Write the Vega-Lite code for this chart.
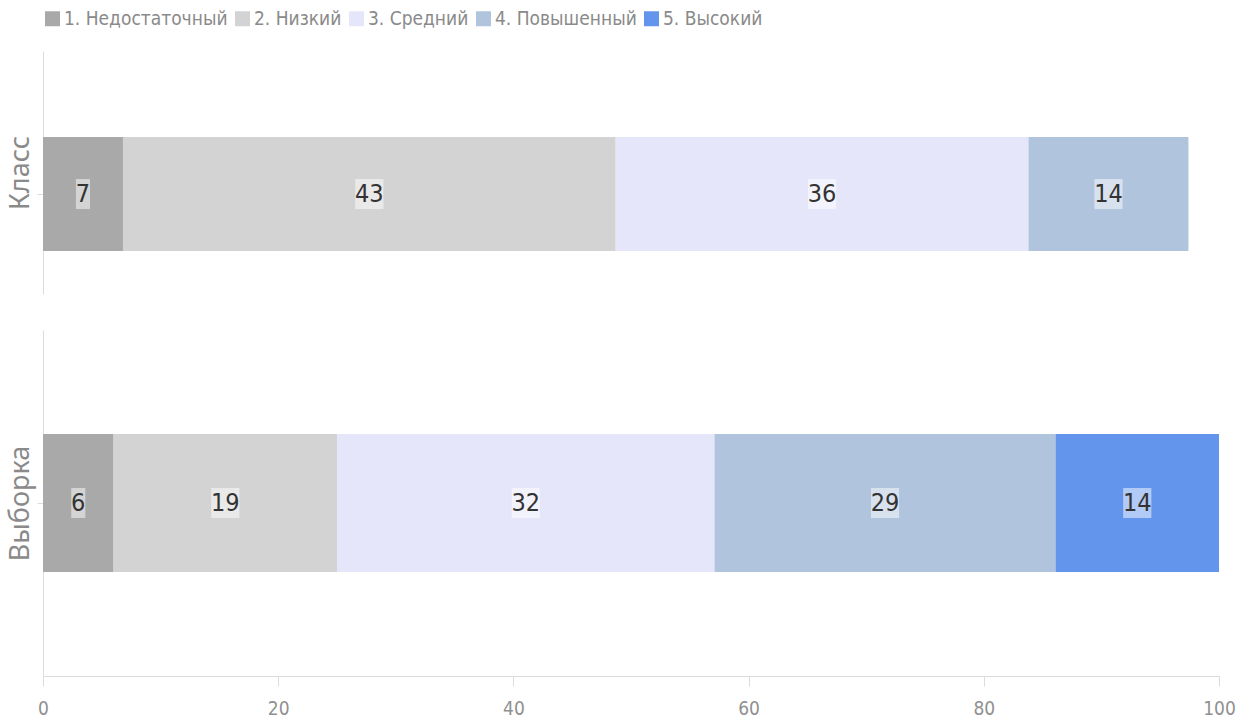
{
  "$schema": "https://vega.github.io/schema/vega-lite/v6.json",
  "padding": {"left": 6, "top": 9, "right": 18, "bottom": 2},
  "background": "white",
  "config": {
    "view": {"stroke": null},
    "font": "DejaVu Sans Condensed, Liberation Sans, sans-serif",
    "axis": {"domainColor": "#dcdcdc", "tickColor": "#dcdcdc", "labelColor": "#909090", "titleColor": "#8a8a8a", "grid": false, "labelFont": "DejaVu Sans Condensed, Liberation Sans, sans-serif"},
    "legend": {"labelFont": "DejaVu Sans Condensed, Liberation Sans, sans-serif"}
  },
  "data": {
    "values": [
      {"group": "Класс", "level": "1. Недостаточный", "value": 6.8, "label": "7"},
      {"group": "Класс", "level": "2. Низкий", "value": 41.9, "label": "43"},
      {"group": "Класс", "level": "3. Средний", "value": 35.1, "label": "36"},
      {"group": "Класс", "level": "4. Повышенный", "value": 13.6, "label": "14"},
      {"group": "Выборка", "level": "1. Недостаточный", "value": 6.0, "label": "6"},
      {"group": "Выборка", "level": "2. Низкий", "value": 19.0, "label": "19"},
      {"group": "Выборка", "level": "3. Средний", "value": 32.1, "label": "32"},
      {"group": "Выборка", "level": "4. Повышенный", "value": 29.0, "label": "29"},
      {"group": "Выборка", "level": "5. Высокий", "value": 13.9, "label": "14"}
    ]
  },
  "transform": [
    {"stack": "value", "groupby": ["group"], "sort": [{"field": "level", "order": "ascending"}], "as": ["x0", "x1"]},
    {"calculate": "(datum.x0 + datum.x1) / 2", "as": "mid"},
    {"calculate": "datum.mid - 0.6 * length(datum.label)", "as": "boxLo"},
    {"calculate": "datum.mid + 0.6 * length(datum.label)", "as": "boxHi"}
  ],
  "spacing": 36,
  "vconcat": [
    {
      "width": 1176,
      "height": 243,
      "transform": [{"filter": "datum.group === 'Класс'"}],
      "encoding": {
        "y": {
          "field": "group", "type": "nominal",
          "scale": {"paddingInner": 0, "paddingOuter": 0.566, "align": 0.667},
          "axis": {"labels": false, "title": "Класс", "titleFont": "Noto Sans", "titleFontSize": 27, "titleFontWeight": "normal", "tickSize": 6, "titlePadding": 2}
        }
      },
      "layer": [
        {
          "mark": {"type": "bar"},
          "encoding": {
            "x": {"field": "x0", "type": "quantitative", "scale": {"domain": [0, 100]}, "axis": null},
            "x2": {"field": "x1"},
            "color": {
              "field": "level", "type": "nominal",
              "scale": {"domain": ["1. Недостаточный", "2. Низкий", "3. Средний", "4. Повышенный", "5. Высокий"], "range": ["#a9a9a9", "#d3d3d3", "#e6e6fa", "#b0c4de", "#6495ed"]},
              "legend": {"orient": "top", "direction": "horizontal", "title": null, "symbolType": "square", "symbolSize": 225, "symbolStrokeWidth": 0, "labelFontSize": 19, "labelLimit": 400, "labelColor": "#8a8a8a", "labelOffset": 2, "columnPadding": 5, "offset": 22}
            }
          }
        },
        {
          "mark": {"type": "bar", "height": 30, "color": "white", "opacity": 0.5},
          "encoding": {
            "x": {"field": "boxLo", "type": "quantitative", "axis": null},
            "x2": {"field": "boxHi"}
          }
        },
        {
          "mark": {"type": "text", "fontSize": 25, "color": "#333333"},
          "encoding": {
            "x": {"field": "mid", "type": "quantitative", "axis": null},
            "text": {"field": "label"}
          }
        }
      ]
    },
    {
      "width": 1176,
      "height": 346,
      "transform": [{"filter": "datum.group === 'Выборка'"}],
      "encoding": {
        "y": {
          "field": "group", "type": "nominal",
          "scale": {"paddingInner": 0, "paddingOuter": 0.754, "align": 0.5},
          "axis": {"labels": false, "title": "Выборка", "titleFont": "Noto Sans", "titleFontSize": 27, "titleFontWeight": "normal", "tickSize": 6, "titlePadding": 2}
        }
      },
      "layer": [
        {
          "mark": {"type": "bar"},
          "encoding": {
            "x": {"field": "x0", "type": "quantitative", "scale": {"domain": [0, 100]}, "axis": {"values": [0, 20, 40, 60, 80, 100], "title": null, "labelFontSize": 19, "labelFlush": false, "tickSize": 10, "labelPadding": 13}},
            "x2": {"field": "x1"},
            "color": {
              "field": "level", "type": "nominal",
              "scale": {"domain": ["1. Недостаточный", "2. Низкий", "3. Средний", "4. Повышенный", "5. Высокий"], "range": ["#a9a9a9", "#d3d3d3", "#e6e6fa", "#b0c4de", "#6495ed"]}
            }
          }
        },
        {
          "mark": {"type": "bar", "height": 30, "color": "white", "opacity": 0.5},
          "encoding": {
            "x": {"field": "boxLo", "type": "quantitative"},
            "x2": {"field": "boxHi"}
          }
        },
        {
          "mark": {"type": "text", "fontSize": 25, "color": "#333333"},
          "encoding": {
            "x": {"field": "mid", "type": "quantitative"},
            "text": {"field": "label"}
          }
        }
      ]
    }
  ],
  "resolve": {"scale": {"y": "independent"}}
}
